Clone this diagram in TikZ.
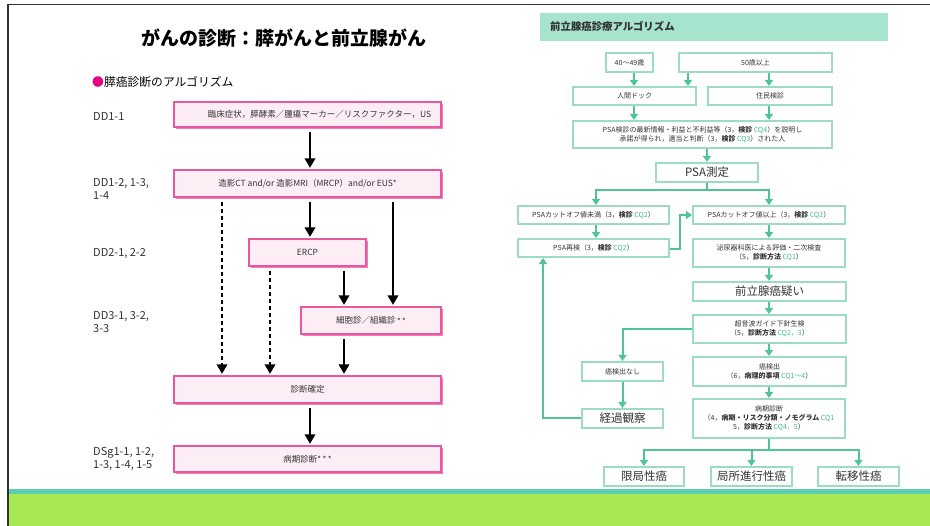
\documentclass[tikz,border=0pt]{standalone}
\usepackage{fontspec}
\setmainfont{Noto Sans CJK JP}
\usetikzlibrary{arrows.meta,shadows}
\definecolor{pinkb}{HTML}{E9579E}
\definecolor{pinkf}{HTML}{FDEEF5}
\definecolor{pinkd}{HTML}{EE80B6}
\definecolor{gbord}{HTML}{9EDCC2}
\definecolor{garrc}{HTML}{4FC596}
\definecolor{cqc}{HTML}{3EBF8C}
\definecolor{hdr}{HTML}{A6E4CD}
\definecolor{tealband}{HTML}{5DCFB0}
\definecolor{limeband}{HTML}{A8E853}
\definecolor{txt}{HTML}{333333}
\definecolor{magb}{HTML}{E4007F}
\newcommand{\cqg}[1]{\textcolor{cqc}{#1}}
\newcommand{\astr}{\raisebox{-0.5pt}{\fontsize{8}{8}\selectfont *}}
\begin{document}
\begin{tikzpicture}[x=1pt,y=-1pt,
  pbox/.style={draw=pinkb, fill=pinkf, line width=1.3pt, inner sep=0pt, text=txt,
    font=\fontsize{8.5}{10}\selectfont,
    drop shadow={shadow xshift=1.8pt, shadow yshift=-1.8pt, fill=pinkd, opacity=1}},
  lbl/.style={anchor=west, align=left, inner sep=0pt, text=txt, font=\fontsize{11}{12.5}\selectfont},
  barr/.style={line width=1.9pt, -{Triangle[width=10.5pt,length=9.5pt]}, shorten <=4pt, shorten >=1.5pt},
  darr/.style={barr, dash pattern=on 4.5pt off 2.5pt},
  gbox/.style={draw=gbord, line width=1.1pt, fill=white, inner sep=0pt, text=txt, align=center,
    font=\fontsize{7}{9}\selectfont},
  gbig/.style={gbox, font=\fontsize{11.5}{13}\selectfont},
  garr/.style={draw=garrc, line width=2pt, -{Triangle[width=8pt,length=6pt]}, shorten >=0.5pt},
  gline/.style={draw=garrc, line width=2pt}
]
\useasboundingbox (0,0) rectangle (930,526);
\fill[white] (0,0) rectangle (930,526);
% frame and bands
\fill[tealband] (9,489) rectangle (930,494);
\fill[limeband] (9,494) rectangle (930,526);
\draw[txt, line width=1.6pt] (8,526) -- (8,4.5) -- (930,4.5);

% ---------- left: pancreas ----------
\node[font=\bfseries\fontsize{19}{22}\selectfont, text=black] (title) at (284,38) {がんの診断：膵がんと前立腺がん};
\node[anchor=west, inner sep=0pt, font=\fontsize{11.8}{14}\selectfont, text=black] (sub) at (92,82) {\textcolor{magb}{●}膵癌診断のアルゴリズム};

\node[lbl] (l1) at (93,116) {DD1-1};
\node[lbl] (l2) at (93,189) {DD1-2, 1-3,\\1-4};
\node[lbl] (l3) at (93,254) {DD2-1, 2-2};
\node[lbl] (l4) at (93,322) {DD3-1, 3-2,\\3-3};
\node[lbl] (l5) at (93,459) {DSg1-1, 1-2,\\1-3, 1-4, 1-5};

\node[pbox, minimum width=267pt, minimum height=25pt] (b1) at (307.5,114.5) {\hspace*{24pt}臨床症状，膵酵素／腫瘍マーカー／リスクファクター，US};
\node[pbox, minimum width=267pt, minimum height=27pt] (b2) at (307.5,183.5) {造影CT and/or 造影MRI（MRCP）and/or EUS\astr};
\node[pbox, minimum width=117pt, minimum height=27pt] (ercp) at (307.5,252.5) {ERCP};
\node[pbox, minimum width=140pt, minimum height=27pt] (cyto) at (371,320.5) {細胞診／組織診\,\astr\,\astr};
\node[pbox, minimum width=267pt, minimum height=27pt] (conf) at (307.5,389.5) {診断確定};
\node[pbox, minimum width=267pt, minimum height=26pt] (stage) at (307.5,459) {病期診断\astr\,\astr\,\astr};

\coordinate (L1) at (310,0);
\coordinate (L2) at (222,0);
\coordinate (L3) at (270,0);
\coordinate (L4) at (344,0);
\coordinate (L5) at (393,0);
\draw[barr] (b1.south -| L1) -- (b2.north -| L1);
\draw[barr] (b2.south -| L1) -- (ercp.north -| L1);
\draw[darr] (b2.south -| L2) -- (conf.north -| L2);
\draw[darr] (ercp.south -| L3) -- (conf.north -| L3);
\draw[barr] (ercp.south -| L4) -- (cyto.north -| L4);
\draw[barr] (b2.south -| L5) -- (cyto.north -| L5);
\draw[barr] (cyto.south -| L4) -- (conf.north -| L4);
\draw[barr] (conf.south -| L1) -- (stage.north -| L1);

% ---------- right: prostate ----------
\fill[hdr] (540,13) rectangle (888,41);
\node[anchor=west, inner sep=0pt, font=\bfseries\fontsize{10.4}{12}\selectfont, text=txt] (hdrt) at (550,26.5) {前立腺癌診療アルゴリズム};

\node[gbox, minimum width=47pt, minimum height=19pt] (a40) at (629.5,62.5) {40〜49歳};
\node[gbox, minimum width=153pt, minimum height=19pt] (a50) at (755.5,62.5) {50歳以上};
\node[gbox, minimum width=123pt, minimum height=18pt] (dock) at (634.5,96) {人間ドック};
\node[gbox, minimum width=124pt, minimum height=18pt] (jumin) at (770,96) {住民検診};
\node[gbox, minimum width=259pt, minimum height=27pt] (psak) at (702.5,134.5) {PSA検診の最新情報・利益と不利益等（3，\textbf{検診} \cqg{CQ4}）を説明し\\承諾が得られ，適当と判断（3，\textbf{検診} \cqg{CQ3}）された人};
\node[gbig, minimum width=102pt, minimum height=19pt] (psam) at (707,172.5) {PSA測定};
\node[gbox, minimum width=151pt, minimum height=18pt] (low) at (593.5,215) {PSAカットオフ値未満（3，\textbf{検診} \cqg{CQ2}）};
\node[gbox, minimum width=152pt, minimum height=18pt] (high) at (769,215) {PSAカットオフ値以上（3，\textbf{検診} \cqg{CQ2}）};
\node[gbox, minimum width=151pt, minimum height=18pt] (re) at (593.5,248) {PSA再検（3，\textbf{検診} \cqg{CQ2}）};
\node[gbox, minimum width=152pt, minimum height=28pt] (uro) at (769,253) {泌尿器科医による評価・二次検査\\（5，\textbf{診断方法} \cqg{CQ1}）};
\node[gbig, minimum width=153pt, minimum height=19pt] (sus) at (769.5,291.5) {前立腺癌疑い};
\node[gbox, minimum width=153pt, minimum height=28pt] (bio) at (769.5,329) {超音波ガイド下針生検\\（5，\textbf{診断方法} \cqg{CQ2，3}）};
\node[gbox, minimum width=81pt, minimum height=19pt] (none) at (622.5,371.5) {癌検出なし};
\node[gbox, minimum width=153pt, minimum height=29pt] (det) at (769.5,371.5) {癌検出\\（6，\textbf{病理的事項} \cqg{CQ1〜4}）};
\node[gbig, minimum width=81pt, minimum height=19pt] (obs) at (622.5,418.5) {経過観察};
\node[gbox, minimum width=152pt, minimum height=39pt] (stg) at (769,418.5) {病期診断\\（4，\textbf{病期・リスク分類・ノモグラム} \cqg{CQ1}\\5，\textbf{診断方法} \cqg{CQ4，5}）};
\node[gbig, minimum width=80pt, minimum height=19pt] (loc) at (644,476.5) {限局性癌};
\node[gbig, minimum width=81pt, minimum height=19pt] (adv) at (751.5,476.5) {局所進行性癌};
\node[gbig, minimum width=81pt, minimum height=19pt] (met) at (858.5,476.5) {転移性癌};

\coordinate (R1) at (634,0);
\coordinate (R2) at (688,0);
\coordinate (R3) at (769,0);
\coordinate (R4) at (596,0);
\coordinate (R5) at (543,0);
\coordinate (R6) at (707,0);
\coordinate (j1) at (707,190);
\coordinate (j2) at (769,450);

\draw[garr] (a40.south -| R1) -- (dock.north -| R1);
\draw[garr] (a50.south -| R2) -- (dock.north -| R2);
\draw[garr] (a50.south -| R3) -- (jumin.north -| R3);
\draw[garr] (dock.south -| R1) -- (psak.north -| R1);
\draw[garr] (jumin.south -| R3) -- (psak.north -| R3);
\draw[garr] (psak.south -| R6) -- (psam.north -| R6);
\draw[gline] (psam.south) -- (j1);
\draw[garr] (j1) -| (low.north -| R4);
\draw[garr] (j1) -| (high.north -| R3);
\draw[garr] (low.south -| R4) -- (re.north -| R4);
\draw[garr] ([yshift=-1.5pt]re.east) -- ++(10,0) |- (high.west);
\draw[garr] (high.south -| R3) -- (uro.north -| R3);
\draw[garr] (uro.south -| R3) -- (sus.north -| R3);
\draw[garr] (sus.south -| R3) -- (bio.north -| R3);
\draw[garr] (bio.south -| R3) -- (det.north -| R3);
\draw[garr] (bio.west) -| (none.north);
\draw[garr] (none.south) -- (obs.north);
\draw[garr] (obs.west) -| (re.south -| R5);
\draw[garr] (det.south -| R3) -- (stg.north -| R3);
\draw[gline] (stg.south -| R3) -- (j2);
\draw[garr] (j2) -| (loc.north);
\draw[garr] (j2) -| (adv.north);
\draw[garr] (j2) -| (met.north);
\end{tikzpicture}
\end{document}
